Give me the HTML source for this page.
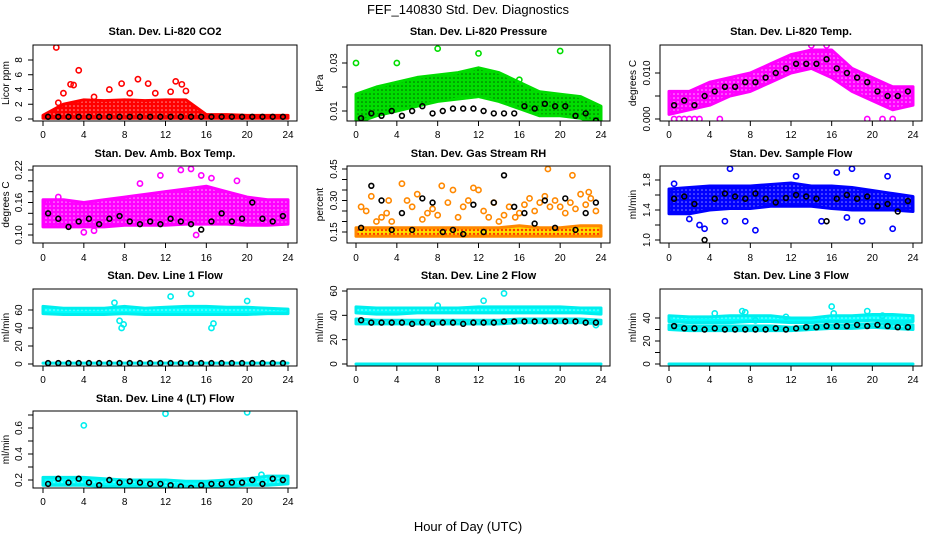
<!DOCTYPE html>
<html><head><meta charset="utf-8">
<style>
html,body{margin:0;padding:0;background:#fff;}
svg{display:block;font-family:"Liberation Sans",sans-serif;}
</style></head>
<body>
<svg id="chart" width="936" height="540" viewBox="0 0 936 540">
<defs>
<pattern id="pat-red" width="4" height="4" patternUnits="userSpaceOnUse"><rect width="4" height="4" fill="#ff0000"/><circle cx="2" cy="2" r="0.8" fill="#ff9999"/></pattern>
<pattern id="pat-green" width="4" height="4" patternUnits="userSpaceOnUse"><rect width="4" height="4" fill="#00dd00"/><circle cx="2" cy="2" r="0.8" fill="#006600"/></pattern>
<pattern id="pat-magenta" width="4" height="4" patternUnits="userSpaceOnUse"><rect width="4" height="4" fill="#ff00ff"/><circle cx="2" cy="2" r="0.8" fill="#ffaaff"/></pattern>
<pattern id="pat-orange" width="4" height="4" patternUnits="userSpaceOnUse"><rect width="4" height="4" fill="#ffdd00"/><circle cx="2" cy="2" r="1.2" fill="#ff3300"/></pattern>
<pattern id="pat-blue" width="4" height="4" patternUnits="userSpaceOnUse"><rect width="4" height="4" fill="#0000ff"/><circle cx="2" cy="2" r="0.8" fill="#8888ff"/></pattern>
<pattern id="pat-cyan" width="4" height="4" patternUnits="userSpaceOnUse"><rect width="4" height="4" fill="#00ffff"/><circle cx="2" cy="2" r="0.8" fill="#99ffff"/></pattern>
</defs>
<text x="468" y="14" text-anchor="middle" font-size="13">FEF_140830  Std. Dev. Diagnostics</text>
<text x="468" y="531" text-anchor="middle" font-size="13">Hour of Day (UTC)</text>
</svg>
<script>
// shared data
const bandHours = [0,2,4,6,8,10,12,14,16,18,20,22,24];
const blackHours = [0.5,1.5,2.5,3.5,4.5,5.5,6.5,7.5,8.5,9.5,10.5,11.5,12.5,13.5,14.5,15.5,16.5,17.5,18.5,19.5,20.5,21.5,22.5,23.5];
const xTicks = [0,4,8,12,16,20,24];

// P1 CO2
const co2Lo = [0.1,0.1,0.1,0.1,0.1,0.1,0.1,0.1,0.1,0.1,0.1,0.1,0.1];
const co2Hi = [0.5,2.0,2.6,2.5,2.6,2.5,2.6,2.6,0.6,0.6,0.5,0.5,0.5];
const co2OutX = [1.3,3.5,2.7,3.0,7.7,9.3,10.3,13.0,13.6,14.0,6.5,2.0,8.5,11.0,12.5,5.0,1.5];
const co2OutY = [9.7,6.6,4.7,4.6,4.8,5.4,4.8,5.1,4.7,3.8,4.0,3.5,3.5,3.5,3.7,3.0,2.2];
const co2Black = [0.3,0.3,0.3,0.3,0.3,0.3,0.3,0.3,0.3,0.3,0.3,0.3,0.3,0.3,0.3,0.3,0.3,0.3,0.3,0.3,0.3,0.3,0.3,0.3];
// P2 Pressure
const prLo = [0.005,0.008,0.010,0.012,0.014,0.015,0.016,0.014,0.011,0.008,0.008,0.007,0.004];
const prHi = [0.017,0.020,0.022,0.024,0.025,0.026,0.028,0.026,0.022,0.018,0.017,0.016,0.012];
const prOutX = [0.0,0.0,4.0,8.0,12.0,20.0,16.0];
const prOutY = [0.045,0.030,0.030,0.036,0.034,0.035,0.023];
const prBlack = [0.007,0.009,0.008,0.010,0.008,0.010,0.012,0.009,0.010,0.011,0.011,0.011,0.010,0.009,0.009,0.009,0.012,0.011,0.013,0.012,0.012,0.008,0.009,0.006];
// P3 Li-820 Temp
const tLo = [0.001,0.002,0.003,0.005,0.006,0.008,0.010,0.011,0.009,0.006,0.004,0.002,0.003];
const tHi = [0.006,0.006,0.008,0.009,0.010,0.012,0.014,0.015,0.015,0.011,0.009,0.007,0.007];
const tOutX = [0.5,1.0,1.5,2.0,2.5,3.0,5.0,19.5,21.0,22.0,15.5,14.0];
const tOutY = [0.000,0.000,0.000,0.000,0.000,0.000,0.000,0.000,0.000,0.000,0.016,0.016];
const tBlack = [0.003,0.004,0.003,0.005,0.006,0.007,0.007,0.008,0.008,0.009,0.010,0.011,0.012,0.012,0.012,0.013,0.011,0.010,0.009,0.008,0.006,0.005,0.005,0.006];
// P4 Amb Box Temp
const abLo = [0.115,0.115,0.115,0.115,0.118,0.118,0.118,0.120,0.120,0.120,0.118,0.118,0.120];
const abHi = [0.165,0.165,0.160,0.165,0.170,0.175,0.180,0.185,0.190,0.180,0.170,0.165,0.165];
const abOutX = [0.5,1.5,9.5,11.5,13.5,14.5,15.5,16.5,19.0,4.0,5.0,15.0];
const abOutY = [0.160,0.170,0.195,0.210,0.220,0.222,0.210,0.205,0.200,0.105,0.108,0.100];
const abBlack = [0.140,0.130,0.115,0.125,0.130,0.120,0.130,0.135,0.125,0.120,0.125,0.120,0.130,0.125,0.120,0.110,0.125,0.140,0.125,0.130,0.160,0.130,0.125,0.135];
// P5 Gas Stream RH
const rhLo = [0.13,0.13,0.13,0.13,0.13,0.13,0.13,0.13,0.13,0.13,0.13,0.13,0.13];
const rhHi = [0.17,0.17,0.17,0.17,0.17,0.17,0.17,0.17,0.18,0.17,0.17,0.18,0.18];
const rhOutX = [0.5,1.0,1.5,2.5,3.0,3.5,4.5,5.0,5.5,6.0,7.0,7.5,8.0,9.0,9.5,10.5,11.0,11.5,12.5,13.0,13.5,14.0,15.0,16.0,16.5,17.0,17.5,18.0,18.5,19.0,19.5,20.5,21.0,21.5,22.0,22.5,23.0,23.5,2.0,6.5,10.0,12.0,14.5,18.8,21.2,3.2,8.4,15.6,20.0,22.8];
const rhOutY = [0.27,0.25,0.32,0.22,0.24,0.20,0.38,0.30,0.27,0.33,0.24,0.26,0.23,0.29,0.35,0.27,0.30,0.36,0.25,0.22,0.29,0.20,0.27,0.24,0.28,0.31,0.25,0.29,0.32,0.27,0.30,0.24,0.29,0.26,0.33,0.28,0.31,0.25,0.20,0.21,0.22,0.35,0.23,0.45,0.42,0.30,0.37,0.22,0.27,0.34];
const rhBlack = [0.17,0.37,0.30,0.16,0.24,0.16,0.31,0.29,0.15,0.16,0.14,0.28,0.15,0.29,0.42,0.27,0.24,0.19,0.30,0.17,0.31,0.16,0.24,0.29];
// P6 Sample Flow
const sfLo = [1.35,1.35,1.40,1.42,1.42,1.45,1.45,1.45,1.42,1.40,1.40,1.40,1.38];
const sfHi = [1.68,1.70,1.72,1.72,1.72,1.74,1.76,1.72,1.72,1.70,1.66,1.62,1.58];
const sfOutX = [0.5,2.0,3.0,3.5,6.0,7.5,8.5,12.5,15.0,16.5,18.0,19.0,21.5,22.0,17.5,5.5];
const sfOutY = [1.75,1.28,1.20,1.15,1.95,1.25,1.13,1.85,1.25,1.90,1.95,1.25,1.85,1.15,1.30,1.25];
const sfBlack = [1.55,1.58,1.48,1.00,1.55,1.62,1.58,1.55,1.62,1.55,1.50,1.56,1.60,1.58,1.55,1.25,1.55,1.60,1.55,1.58,1.45,1.48,1.38,1.52];
// P7 Line 1 Flow
const l1Lo = [56,55,55,55,56,55,55,55,55,55,55,56,56];
const l1Hi = [64,62,62,62,64,62,63,64,64,63,63,62,61];
const l1OutX = [7.5,7.7,7.9,12.5,14.5,16.5,16.7,7.0,20.0];
const l1OutY = [48,40,44,75,78,40,45,68,70];
const l1Black = [1,1,1,1,1,1,1,1,1,1,1,1,1,1,1,1,1,1,1,1,1,1,1,1];
const l1Base = [1,1,1,1,1,1,1,1,1,1,1,1,1];
// P8 Line 2 Flow
const l2Lo = [42,41,41,42,42,42,42,42,42,42,42,42,41];
const l2Hi = [47,46,46,46,46,46,47,47,47,47,47,46,46];
const l2Lo2 = [33,33,33,33,33,33,33,33,34,34,34,34,33];
const l2Hi2 = [37,36,36,36,36,36,36,36,37,37,37,37,36];
const l2OutX = [12.5,14.5,8.0,23.5];
const l2OutY = [52,58,48,32];
const l2Black = [36,34,34,34,34,33,34,33,34,34,33,34,34,34,35,35,35,35,35,35,35,35,34,34];
const l2Base = [0,0,0,0,0,0,0,0,0,0,0,0,0];
// P9 Line 3 Flow
const l3Lo = [37,36,36,36,37,37,36,36,37,37,38,37,37];
const l3Hi = [42,41,41,42,42,42,40,40,42,42,43,43,42];
const l3Lo2 = [30,29,29,29,29,29,29,30,31,31,32,31,30];
const l3Hi2 = [34,33,33,33,33,33,32,33,34,34,35,35,34];
const l3OutX = [4.5,7.2,7.5,8.5,11.5,16.0,16.2,19.5,21.0];
const l3OutY = [44,46,45,38,41,50,44,46,42];
const l3Black = [33,31,31,30,31,30,30,30,30,30,31,30,31,32,32,33,33,33,34,33,34,33,32,32];
const l3Base = [0,0,0,0,0,0,0,0,0,0,0,0,0];
// P10 Line 4 Flow
const l4Lo = [0.16,0.16,0.16,0.15,0.15,0.15,0.14,0.15,0.15,0.15,0.16,0.16,0.17];
const l4Hi = [0.22,0.22,0.22,0.21,0.20,0.20,0.20,0.19,0.19,0.20,0.21,0.23,0.23];
const l4OutX = [4.0,12.0,20.0,21.4];
const l4OutY = [0.62,0.71,0.72,0.24];
const l4Black = [0.17,0.21,0.18,0.21,0.18,0.16,0.20,0.18,0.19,0.18,0.17,0.17,0.16,0.15,0.14,0.16,0.17,0.17,0.18,0.18,0.20,0.17,0.21,0.20];

// y tick arrays
const yT1=[0,2,4,6,8], yL1=["0","2","4","6","8"];
const yT2=[0.01,0.02,0.03], yL2=["0.01","","0.03"];
const yT3=[0,0.005,0.010], yL3=["0.000","","0.010"];
const yT4=[0.10,0.12,0.14,0.16,0.18,0.20,0.22], yL4=["0.10","","","0.16","","","0.22"];
const yT5=[0.15,0.20,0.25,0.30,0.35,0.40,0.45], yL5=["0.15","","","0.30","","","0.45"];
const yT6=[1.0,1.2,1.4,1.6,1.8], yL6=["1.0","","1.4","","1.8"];
const yT7=[0,20,40,60], yL7=["0","20","40","60"];
const yT8=[0,20,40,60], yL8=["0","20","40","60"];
const yT9=[0,10,20,30,40], yL9=["0","","20","","40"];
const yT10=[0.2,0.3,0.4,0.5,0.6,0.7], yL10=["0.2","","0.4","","0.6",""];

const NS="http://www.w3.org/2000/svg";
const svg=document.getElementById('chart');
function mk(tag,attrs,parent){const e=document.createElementNS(NS,tag);for(const k in attrs)e.setAttribute(k,attrs[k]);(parent||svg).appendChild(e);return e;}

const cols=[{l:33,r:297,x0:43,x1:288,lab:22,tit:9},{l:347,r:610,x0:356,x1:601,lab:337,tit:323},{l:660,r:922,x0:669,x1:913,lab:650,tit:636}];
const rows=[{t:45,b:121,title:35,xl:138},{t:166,b:243,title:157,xl:261},{t:289,b:366,title:279,xl:383},{t:411,b:488,title:402,xl:505}];

function panel(o){
  const c=cols[o.col], rw=rows[o.row];
  const g=mk('g',{});
  
  
  const sx=h=>c.x0+(h/24)*(c.x1-c.x0);
  const sy=v=>o.p0+(v-o.v0)/(o.v1-o.v0)*(o.p1-o.p0);
  const t=mk('text',{x:(c.l+c.r)/2,y:rw.title,'text-anchor':'middle','font-size':'11','font-weight':'bold'},g);
  t.textContent=o.title;
  
  
  const clip='clip-'+o.name;
  const cp=mk('clipPath',{id:clip},g); mk('rect',{x:c.l,y:rw.t,width:c.r-c.l,height:rw.b-rw.t},cp);
  const pg=mk('g',{'clip-path':'url(#'+clip+')'},g);
  (o.bands||[]).forEach(bd=>{
    let pts=bandHours.map((h,i)=>sx(h)+','+sy(bd[1][i]));
    pts=pts.concat(bandHours.map((h,i)=>sx(h)+','+sy(bd[0][i])).reverse());
    const p=mk('polygon',{points:pts.join(' '),fill:'url(#pat-'+o.pat+')',stroke:o.color,'stroke-width':'3','stroke-linejoin':'round'},pg);
    
    
  });
  o.outX.forEach((h,i)=>{
    const ci=mk('circle',{cx:sx(h),cy:sy(o.outY[i]),r:2.6,fill:'none',stroke:o.color,'stroke-width':'1.6'},pg);
    
    
  });
  blackHours.forEach((h,i)=>{
    const ci=mk('circle',{cx:sx(h),cy:sy(o.black[i]),r:2.4,fill:'none',stroke:'#000','stroke-width':'1.6'},pg);
    
    
  });
  const box=mk('rect',{x:c.l,y:rw.t,width:c.r-c.l,height:rw.b-rw.t,fill:'none',stroke:'#000','stroke-width':'1'},g);
  
  
  xTicks.forEach(h=>{
    mk('line',{x1:sx(h),x2:sx(h),y1:rw.b,y2:rw.b+5,stroke:'#000'},g);
    const tx=mk('text',{x:sx(h),y:rw.xl,'text-anchor':'middle','font-size':'10'},g);
    tx.textContent=String(h);
    
    
  });
  o.yt.forEach((v,i)=>{
    const y=sy(v);
    mk('line',{x1:c.l,x2:c.l-5,y1:y,y2:y,stroke:'#000'},g);
    if(o.yl[i]){
      const ty=mk('text',{x:c.lab,y:y,'text-anchor':'middle','font-size':'10',transform:'rotate(-90 '+c.lab+' '+y+')'},g);
      ty.textContent=o.yl[i];
      
      
    }
  });
  const ym=(rw.t+rw.b)/2;
  const yt=mk('text',{x:c.tit,y:ym,'text-anchor':'middle','font-size':'10',transform:'rotate(-90 '+c.tit+' '+ym+')'},g);
  yt.textContent=o.ytitle;
  
  
}

panel({name:'panel-co2',col:0,row:0,title:'Stan. Dev. Li-820 CO2',ytitle:'Licor ppm',v0:0,p0:119,v1:8,p1:60,yt:yT1,yl:yL1,color:'#ff0000',pat:'red',bands:[[co2Lo,co2Hi]],outX:co2OutX,outY:co2OutY,black:co2Black});
panel({name:'panel-pressure',col:1,row:0,title:'Stan. Dev. Li-820 Pressure',ytitle:'kPa',v0:0.01,p0:111,v1:0.03,p1:63,yt:yT2,yl:yL2,color:'#00dd00',pat:'green',bands:[[prLo,prHi]],outX:prOutX,outY:prOutY,black:prBlack});
panel({name:'panel-li820-temp',col:2,row:0,title:'Stan. Dev. Li-820 Temp.',ytitle:'degrees C',v0:0,p0:119,v1:0.010,p1:73,yt:yT3,yl:yL3,color:'#ff00ff',pat:'magenta',bands:[[tLo,tHi]],outX:tOutX,outY:tOutY,black:tBlack});
panel({name:'panel-amb-box-temp',col:0,row:1,title:'Stan. Dev. Amb. Box Temp.',ytitle:'degrees C',v0:0.10,p0:235,v1:0.22,p1:170,yt:yT4,yl:yL4,color:'#ff00ff',pat:'magenta',bands:[[abLo,abHi]],outX:abOutX,outY:abOutY,black:abBlack});
panel({name:'panel-gas-rh',col:1,row:1,title:'Stan. Dev. Gas Stream RH',ytitle:'percent',v0:0.15,p0:232,v1:0.45,p1:169,yt:yT5,yl:yL5,color:'#ff8800',pat:'orange',bands:[[rhLo,rhHi]],outX:rhOutX,outY:rhOutY,black:rhBlack});
panel({name:'panel-sample-flow',col:2,row:1,title:'Stan. Dev. Sample Flow',ytitle:'ml/min',v0:1.0,p0:240,v1:1.8,p1:180,yt:yT6,yl:yL6,color:'#0000ff',pat:'blue',bands:[[sfLo,sfHi]],outX:sfOutX,outY:sfOutY,black:sfBlack});
panel({name:'panel-line1-flow',col:0,row:2,title:'Stan. Dev. Line 1 Flow',ytitle:'ml/min',v0:0,p0:364,v1:60,p1:310,yt:yT7,yl:yL7,color:'#00eeee',pat:'cyan',bands:[[l1Lo,l1Hi],[l1Base,l1Base]],outX:l1OutX,outY:l1OutY,black:l1Black});
panel({name:'panel-line2-flow',col:1,row:2,title:'Stan. Dev. Line 2 Flow',ytitle:'ml/min',v0:0,p0:364,v1:60,p1:291,yt:yT8,yl:yL8,color:'#00eeee',pat:'cyan',bands:[[l2Lo,l2Hi],[l2Lo2,l2Hi2],[l2Base,l2Base]],outX:l2OutX,outY:l2OutY,black:l2Black});
panel({name:'panel-line3-flow',col:2,row:2,title:'Stan. Dev. Line 3 Flow',ytitle:'ml/min',v0:0,p0:364,v1:40,p1:318,yt:yT9,yl:yL9,color:'#00eeee',pat:'cyan',bands:[[l3Lo,l3Hi],[l3Lo2,l3Hi2],[l3Base,l3Base]],outX:l3OutX,outY:l3OutY,black:l3Black});
panel({name:'panel-line4-flow',col:0,row:3,title:'Stan. Dev. Line 4 (LT) Flow',ytitle:'ml/min',v0:0.2,p0:480,v1:0.6,p1:428,yt:yT10,yl:yL10,color:'#00eeee',pat:'cyan',bands:[[l4Lo,l4Hi]],outX:l4OutX,outY:l4OutY,black:l4Black});
</script>
</body></html>
